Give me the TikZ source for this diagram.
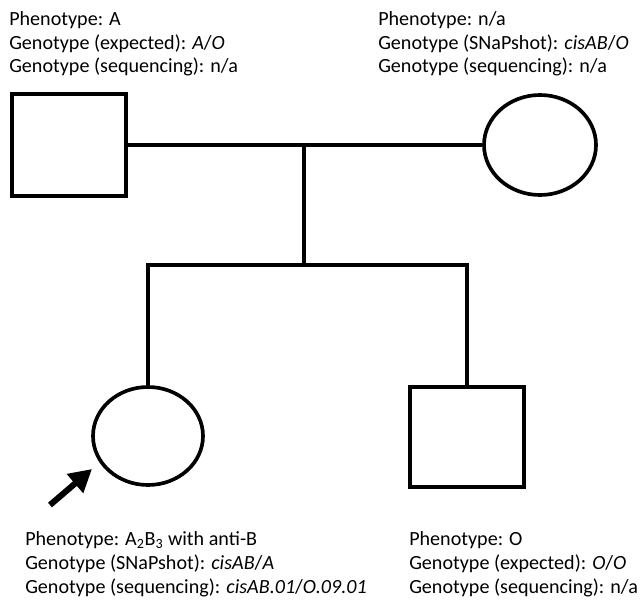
\documentclass[tikz,border=0pt]{standalone}
\usepackage{fontspec}
\setmainfont{Carlito}
\usetikzlibrary{shapes.geometric,arrows.meta}
\begin{document}
\begin{tikzpicture}[
                pedLine/.style={draw=black,line width=2.6pt},
                pedMale/.style={rectangle,draw=black,line width=2.6pt,
                                minimum width=2.85cm,minimum height=2.55cm,inner sep=0pt},
                pedFemale/.style={ellipse,draw=black,line width=2.6pt,
                                  minimum width=2.8cm,minimum height=2.5cm,inner sep=0pt},
                pedNote/.style={anchor=base west,align=left,inner sep=0pt,
                                font=\fontsize{14.3}{16.9}\selectfont},
                pedArrow/.style={draw=black,line width=4.3pt,
                                 -{Triangle[length=16pt,width=17pt]}}]
                \useasboundingbox (0,0) rectangle (16,15);

                % Parents joined by the marriage line.
                \node[pedMale] (father) at (1.725,11.375) {};
                \node[pedFemale] (mother) at (13.5,11.375) {};
                \coordinate (descent) at (7.6,11.375);
                \coordinate (sibBar) at (7.6,8.375);
                \draw[pedLine] (father.east)--(mother.west);
                \draw[pedLine] (descent)--(sibBar);

                % Children hanging from the sibship line.
                \node[pedFemale,minimum width=2.75cm,minimum height=2.45cm] (daughter) at (3.7,4.1) {};
                \node[pedMale,minimum width=2.85cm,minimum height=2.5cm] (son) at (11.675,4.075) {};
                \draw[pedLine] (daughter.north) |- (sibBar) -| (son.north);

                % Proband arrow.
                \coordinate (probTail) at (1.25,2.375);
                \coordinate (probTip) at (2.3,3.275);
                \draw[pedArrow] (probTail)--(probTip);

                % Phenotype and genotype notes (anchored on their last line).
                \node[pedNote] (fatherNote) at (0.225,13.175) {Phenotype: A\\
                    Genotype (expected): \textit{A}/\textit{O}\\
                    Genotype (sequencing): n/a};
                \node[pedNote] (motherNote) at (9.45,13.175) {Phenotype: n/a\\
                    Genotype (SNaPshot): \textit{cisAB}/\textit{O}\\
                    Genotype (sequencing): n/a};
                \node[pedNote] (daughterNote) at (0.625,0.17) {Phenotype: A\textsubscript{2}B\textsubscript{3} with anti-B\\
                    Genotype (SNaPshot): \textit{cisAB}/\textit{A}\\
                    Genotype (sequencing): \textit{cisAB.01}/\textit{O.09.01}};
                \node[pedNote] (sonNote) at (10.225,0.17) {Phenotype: O\\
                    Genotype (expected): \textit{O}/\textit{O}\\
                    Genotype (sequencing): n/a};

            \end{tikzpicture}
\end{document}
